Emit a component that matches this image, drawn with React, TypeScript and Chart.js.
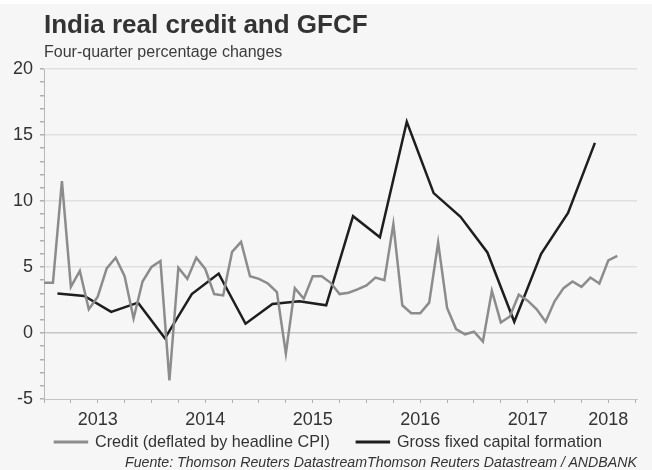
import React, { useEffect, useRef } from 'react';
import { Chart, registerables } from 'chart.js';

Chart.register(...registerables);

// Credit (deflated by headline CPI), monthly from Jan 2013 to May 2018
const creditValues = [
  3.8, 3.8, 11.5, 3.5, 4.7, 1.8, 2.75, 4.9, 5.7, 4.3, 1.1, 3.9,
  5.0, 5.45, -3.6, 4.95, 4.1, 5.7, 4.85, 2.95, 2.85, 6.15, 6.9, 4.3,
  4.1, 3.75, 3.1, -1.55, 3.4, 2.6, 4.3, 4.3, 3.8, 2.95, 3.05, 3.3,
  3.6, 4.2, 4.0, 8.25, 2.1, 1.5, 1.5, 2.3, 6.85, 1.9, 0.3, -0.1,
  0.1, -0.65, 3.2, 0.8, 1.25, 2.9, 2.45, 1.8, 0.85, 2.4, 3.4, 3.9,
  3.5, 4.2, 3.75, 5.5, 5.85,
];

// Gross fixed capital formation, quarterly from 2013Q1 to 2018Q1
const gfcfQuarters = [
  '2013Q1', '2013Q2', '2013Q3', '2013Q4',
  '2014Q1', '2014Q2', '2014Q3', '2014Q4',
  '2015Q1', '2015Q2', '2015Q3', '2015Q4',
  '2016Q1', '2016Q2', '2016Q3', '2016Q4',
  '2017Q1', '2017Q2', '2017Q3', '2017Q4',
  '2018Q1',
];
const gfcfValues = [
  3.0, 2.8, 1.6, 2.3, -0.4, 2.95, 4.5, 0.7, 2.2, 2.4, 2.1, 8.85,
  7.25, 16.0, 10.6, 8.8, 6.1, 0.85, 6.0, 9.1, 14.4,
];

// Year labels (placed mid-year on a months-since-Jan-2013 axis)
const yearLabels = ['2013', '2014', '2015', '2016', '2017', '2018'];
const yearLabelPos = [6, 18, 30, 42, 54, 63];

const seriesNames = ['Credit (deflated by headline CPI)', 'Gross fixed capital formation'];

const FONT = '"Liberation Sans", Arial, Helvetica, sans-serif';

function quarterToMonth(q: string): number {
  const y = parseInt(q.slice(0, 4), 10);
  const n = parseInt(q.slice(5), 10);
  return (y - 2013) * 12 + (n - 1) * 3 + 1.5;
}

// Places the legend row just under the axis labels
const legendPlacer = {
  id: 'legendPlacer',
  beforeDraw(chart: any) {
    const lg = chart.legend;
    if (!lg) return;
    const w = lg.right - lg.left;
    lg.top = 407;
    lg.bottom = 470;
    lg.height = 63;
    lg.left = 14;
    lg.right = 14 + w;
  },
};

export default function App() {
  const ref = useRef<HTMLCanvasElement>(null);

  useEffect(() => {
    document.body.style.margin = '0';
    const canvas = ref.current;
    if (!canvas) return;
    const chart = new Chart(canvas, {
      type: 'line',
      data: {
        datasets: [
          {
            label: seriesNames[0],
            data: creditValues.map((v, i) => ({ x: i, y: v })),
            borderColor: '#8c8c8c',
            backgroundColor: '#8c8c8c',
            borderWidth: 2.5,
            pointRadius: 0,
            tension: 0,
          },
          {
            label: seriesNames[1],
            data: gfcfValues.map((v, i) => ({ x: quarterToMonth(gfcfQuarters[i]), y: v })),
            borderColor: '#1e1e1e',
            backgroundColor: '#1e1e1e',
            borderWidth: 2.5,
            pointRadius: 0,
            tension: 0,
          },
        ],
      },
      plugins: [legendPlacer],
      options: {
        responsive: false,
        animation: false,
        layout: { padding: { left: 8, right: 15, top: 69, bottom: 14 } },
        plugins: {
          legend: {
            position: 'bottom',
            maxHeight: 25,
            labels: {
              boxWidth: 32,
              boxHeight: 0.5,
              padding: 27,
              color: '#333',
              font: { family: FONT, size: 16.2 },
            },
          },
          tooltip: { enabled: false },
        },
        scales: {
          x: {
            type: 'linear',
            min: 0,
            max: 66.2,
            afterBuildTicks: (scale: any) => {
              const t: any[] = [];
              for (let v = 0; v <= 66; v += 3) t.push({ value: v });
              scale.ticks = t;
            },
            afterFit: (scale: any) => {
              scale.height = 32;
            },
            grid: {
              display: true,
              drawOnChartArea: false,
              drawTicks: true,
              tickLength: 4,
              tickColor: '#b0b0b0',
            },
            border: { display: true, color: '#c4c4c4', width: 1 },
            ticks: {
              autoSkip: false,
              maxRotation: 0,
              padding: 6,
              color: '#333',
              font: { family: FONT, size: 18 },
              callback: (v: any) => {
                const idx = yearLabelPos.indexOf(Number(v));
                return idx >= 0 ? yearLabels[idx] : '';
              },
            },
          },
          y: {
            min: -5,
            max: 20,
            afterFit: (scale: any) => {
              scale.width = 36;
            },
            grid: {
              color: (ctx: any) => {
                const v = ctx.tick ? ctx.tick.value : 0;
                if (v === -5) return 'transparent';
                if (v === 0) return '#c6c6c6';
                return v % 5 === 0 ? '#e0e0e0' : 'transparent';
              },
              lineWidth: 1.5,
              tickColor: '#b0b0b0',
              tickLength: 4,
            },
            border: { display: true, color: '#b8b8b8', width: 1 },
            ticks: {
              stepSize: 1,
              autoSkip: false,
              padding: 7,
              color: '#333',
              font: { family: FONT, size: 18 },
              callback: (v: any) => (Number(v) % 5 === 0 ? String(v) : ''),
            },
          },
        },
      },
    });
    return () => chart.destroy();
  }, []);

  return (
    <div
      style={{
        position: 'relative',
        width: 652,
        height: 470,
        background: '#f6f6f6',
        overflow: 'hidden',
        fontFamily: FONT,
      }}
    >
      <div style={{ position: 'absolute', left: 0, top: 0, width: 652, height: 4, background: '#ffffff' }} />
      <canvas ref={ref} width={652} height={470} style={{ position: 'absolute', left: 0, top: 0, display: 'block' }} />
      <div
        style={{
          position: 'absolute',
          left: 44,
          top: 11,
          fontSize: 26,
          lineHeight: '26px',
          fontWeight: 'bold',
          color: '#333',
          whiteSpace: 'nowrap',
        }}
      >
        India real credit and GFCF
      </div>
      <div
        style={{
          position: 'absolute',
          left: 44,
          top: 43.5,
          fontSize: 16,
          lineHeight: '16px',
          color: '#3c3c3c',
          whiteSpace: 'nowrap',
        }}
      >
        Four-quarter percentage changes
      </div>
      <div
        style={{
          position: 'absolute',
          right: 15,
          top: 455,
          fontSize: 14.2,
          lineHeight: '14.2px',
          fontStyle: 'italic',
          color: '#333',
          whiteSpace: 'nowrap',
        }}
      >
        Fuente: Thomson Reuters DatastreamThomson Reuters Datastream / ANDBANK
      </div>
    </div>
  );
}
